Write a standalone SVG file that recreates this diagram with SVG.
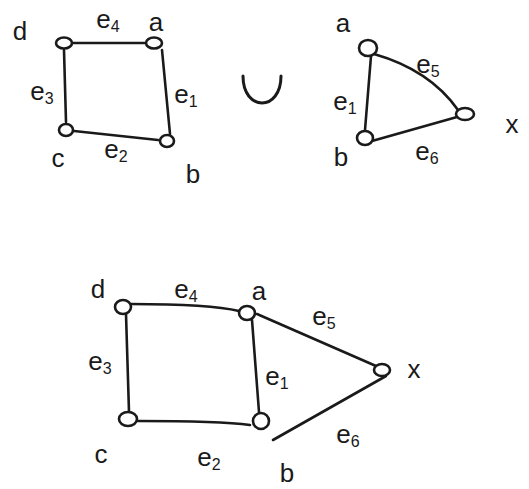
<svg xmlns="http://www.w3.org/2000/svg" width="529" height="489" viewBox="0 0 529 489">
<style>
.e{fill:none;stroke:#1a1a1a;stroke-width:2.6;stroke-linecap:round}
.n{fill:#fff;stroke:#1a1a1a;stroke-width:2.6}
text{font-family:"Liberation Sans","DejaVu Sans",sans-serif;font-size:26px;fill:#1a1a1a;text-anchor:middle}
.s{font-size:16px}
</style>
<rect width="529" height="489" fill="#fff"/>
<g id="connectors">
<path class="e" d="M72 43 L145 43"/>
<path class="e" d="M162 50 L170 134"/>
<path class="e" d="M64 50 L66 122"/>
<path class="e" d="M74 131 L158 140"/>
<path class="e" d="M371 56 L365 130"/>
<path class="e" d="M374 54 Q430 70 458 110"/>
<path class="e" d="M372 141 L457 117"/>
<path class="e" d="M131 304 Q210 304 239 311"/>
<path class="e" d="M252 320 L259 412"/>
<path class="e" d="M126 314 L129 412"/>
<path class="e" d="M138 421 Q220 421 250 425"/>
<path class="e" d="M257 314 L376 366"/>
<path class="e" d="M386 376 L273 440"/>
</g>
<g id="top-d"><ellipse class="n" cx="64" cy="43" rx="8" ry="5.5"/><text x="20" y="40">d</text></g>
<g id="top-a"><ellipse class="n" cx="154" cy="43" rx="8" ry="5.5"/><text x="156" y="31">a</text></g>
<g id="top-c"><ellipse class="n" cx="66" cy="130" rx="7" ry="6"/><text x="58" y="167">c</text></g>
<g id="top-b"><ellipse class="n" cx="167" cy="141" rx="7" ry="6"/><text x="193" y="183">b</text></g>
<g id="top-labels">
<text x="108" y="28">e<tspan class="s" dy="4">4</tspan></text>
<text x="42" y="100">e<tspan class="s" dy="4">3</tspan></text>
<text x="186" y="103">e<tspan class="s" dy="4">1</tspan></text>
<text x="116" y="158">e<tspan class="s" dy="4">2</tspan></text>
</g>
<g id="union"><path class="e" d="M243 76 C243 112 281 112 281 76" style="stroke-width:3"/></g>
<g id="tri-a"><ellipse class="n" cx="368" cy="48" rx="9" ry="8"/><text x="343" y="32">a</text></g>
<g id="tri-b"><ellipse class="n" cx="365" cy="138" rx="8" ry="7"/><text x="341" y="166">b</text></g>
<g id="tri-x"><ellipse class="n" cx="465" cy="114" rx="9" ry="6"/><text x="512" y="133">x</text></g>
<g id="tri-labels">
<text x="428" y="73">e<tspan class="s" dy="4">5</tspan></text>
<text x="345" y="110">e<tspan class="s" dy="4">1</tspan></text>
<text x="427" y="160">e<tspan class="s" dy="4">6</tspan></text>
</g>
<g id="bot-d"><ellipse class="n" cx="123" cy="307" rx="8" ry="7"/><text x="98" y="298">d</text></g>
<g id="bot-a"><ellipse class="n" cx="247" cy="313" rx="8" ry="7"/><text x="259" y="300">a</text></g>
<g id="bot-c"><ellipse class="n" cx="128" cy="419" rx="9" ry="7"/><text x="101" y="463">c</text></g>
<g id="bot-b"><ellipse class="n" cx="261" cy="421" rx="8" ry="8"/><text x="287" y="482">b</text></g>
<g id="bot-x"><ellipse class="n" cx="382" cy="370" rx="8" ry="6"/><text x="414" y="378">x</text></g>
<g id="bot-labels">
<text x="186" y="298">e<tspan class="s" dy="4">4</tspan></text>
<text x="100" y="370">e<tspan class="s" dy="4">3</tspan></text>
<text x="277" y="385">e<tspan class="s" dy="4">1</tspan></text>
<text x="209" y="466">e<tspan class="s" dy="4">2</tspan></text>
<text x="324" y="325">e<tspan class="s" dy="4">5</tspan></text>
<text x="348" y="443">e<tspan class="s" dy="4">6</tspan></text>
</g>
</svg>
